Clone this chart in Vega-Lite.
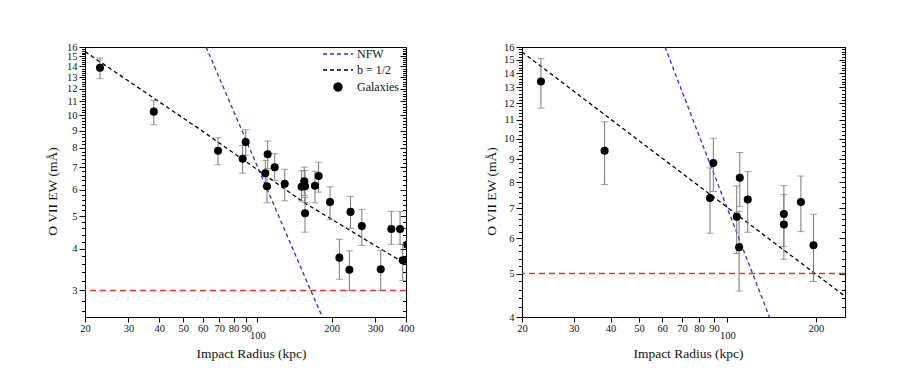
{
  "$schema": "https://vega.github.io/schema/vega-lite/v6.json",
  "background": "white",
  "padding": {"left": 44, "top": 41, "right": 0, "bottom": 5},
  "spacing": 68,
  "config": {
    "view": {"stroke": "#000", "strokeWidth": 1},
    "axis": {
      "labelFont": "Liberation Serif", "labelFontSize": 10.5, "labelColor": "#111",
      "titleFont": "Liberation Serif", "titleFontSize": 13.5, "titleFontWeight": "normal", "titleColor": "#111",
      "tickColor": "#000", "tickWidth": 1, "domain": false, "grid": false, "labelFlush": false, "labelOverlap": false
    },
    "legend": {"labelFont": "Liberation Serif", "labelFontSize": 12, "labelColor": "#111"}
  },
  "resolve": {"scale": {"color": "independent"}, "legend": {"color": "independent"}},
  "datasets": {
    "leftPts": [
      {"x": 23.0, "y": 13.88, "lo": 12.87, "hi": 14.83},
      {"x": 38.0, "y": 10.26, "lo": 9.38, "hi": 11.09},
      {"x": 69.2, "y": 7.84, "lo": 7.12, "hi": 8.58},
      {"x": 87.1, "y": 7.42, "lo": 6.72, "hi": 8.13},
      {"x": 89.6, "y": 8.32, "lo": 7.6, "hi": 9.06},
      {"x": 110, "y": 7.65, "lo": 6.94, "hi": 8.38},
      {"x": 107.6, "y": 6.72, "lo": 6.14, "hi": 7.34},
      {"x": 109.3, "y": 6.14, "lo": 5.48, "hi": 6.85},
      {"x": 117.5, "y": 7.0, "lo": 6.39, "hi": 7.68},
      {"x": 129, "y": 6.25, "lo": 5.56, "hi": 6.9},
      {"x": 151, "y": 6.12, "lo": 5.55, "hi": 6.83},
      {"x": 154.8, "y": 6.36, "lo": 5.77, "hi": 7.0},
      {"x": 155.9, "y": 6.14, "lo": 5.49, "hi": 6.85},
      {"x": 155.9, "y": 5.1, "lo": 4.48, "hi": 5.69},
      {"x": 171, "y": 6.16, "lo": 5.48, "hi": 6.81},
      {"x": 177, "y": 6.59, "lo": 5.9, "hi": 7.25},
      {"x": 196.9, "y": 5.51, "lo": 4.88, "hi": 6.12},
      {"x": 238.4, "y": 5.15, "lo": 4.6, "hi": 5.73},
      {"x": 264.9, "y": 4.67, "lo": 4.09, "hi": 5.24},
      {"x": 348.8, "y": 4.58, "lo": 4.12, "hi": 5.17},
      {"x": 378.4, "y": 4.58, "lo": 4.12, "hi": 5.17},
      {"x": 214.8, "y": 3.76, "lo": 3.24, "hi": 4.27},
      {"x": 235.8, "y": 3.46, "lo": 3.0, "hi": 3.94},
      {"x": 316, "y": 3.47, "lo": 3.0, "hi": 3.95},
      {"x": 388, "y": 3.69, "lo": 3.21, "hi": 4.12},
      {"x": 405, "y": 4.11, "lo": 3.62, "hi": 4.6}
    ],
    "leftLines": [
      {"series": "b = 1/2", "x": 20, "y": 15.5},
      {"series": "b = 1/2", "x": 58, "y": 9.12},
      {"series": "b = 1/2", "x": 156.9, "y": 5.45},
      {"series": "b = 1/2", "x": 386.6, "y": 3.65},
      {"series": "b = 1/2", "x": 400, "y": 3.6},
      {"series": "NFW", "x": 61.9, "y": 16},
      {"series": "NFW", "x": 134.3, "y": 4.24},
      {"series": "NFW", "x": 164.4, "y": 3.0},
      {"series": "NFW", "x": 183.2, "y": 2.5}
    ],
    "rightPts": [
      {"x": 23.2, "y": 13.4, "lo": 11.69, "hi": 15.07},
      {"x": 38.2, "y": 9.39, "lo": 7.9, "hi": 10.9},
      {"x": 89.5, "y": 8.82, "lo": 7.62, "hi": 10.02},
      {"x": 87.2, "y": 7.37, "lo": 6.15, "hi": 8.6},
      {"x": 110.1, "y": 8.18, "lo": 7.05, "hi": 9.31},
      {"x": 117.2, "y": 7.31, "lo": 6.18, "hi": 8.44},
      {"x": 107.5, "y": 6.69, "lo": 5.54, "hi": 7.84},
      {"x": 109.5, "y": 5.72, "lo": 4.57, "hi": 6.88},
      {"x": 155.5, "y": 6.79, "lo": 5.75, "hi": 7.85},
      {"x": 155.5, "y": 6.43, "lo": 5.38, "hi": 7.5},
      {"x": 177.7, "y": 7.22, "lo": 6.2, "hi": 8.25},
      {"x": 196.1, "y": 5.78, "lo": 4.8, "hi": 6.78}
    ],
    "rightLines": [
      {"series": "b = 1/2", "x": 20, "y": 15.6},
      {"series": "b = 1/2", "x": 50.4, "y": 9.85},
      {"series": "b = 1/2", "x": 251, "y": 4.45},
      {"series": "NFW", "x": 61.3, "y": 16},
      {"series": "NFW", "x": 76.5, "y": 10.96},
      {"series": "NFW", "x": 138.9, "y": 4.0}
    ]
  },
  "hconcat": [
    {
      "width": 321,
      "height": 270,
      "resolve": {"axis": {"y": "independent"}},
      "layer": [
        {
          "data": {"values": [{"y": 3}]},
          "mark": {"type": "rule", "color": "#ff2a2a", "strokeDash": [6, 4], "strokeWidth": 1.4},
          "encoding": {
            "y": {"field": "y", "type": "quantitative", "scale": {"type": "log", "domain": [2.5, 16], "nice": false}, "axis": null}
          }
        },
        {
          "data": {"name": "leftLines"},
          "mark": {"type": "line", "strokeDash": [4, 3], "strokeWidth": 1.3, "clip": true},
          "encoding": {
            "x": {"field": "x", "type": "quantitative", "scale": {"type": "log", "domain": [20, 400], "nice": false},
              "axis": {"orient": "bottom", "values": [20, 30, 40, 50, 60, 70, 80, 90, 100, 200, 300, 400],
                "labelExpr": "datum.value === 100 ? ['', '100'] : format(datum.value, 'd')",
                "labelLineHeight": 7, "labelPadding": 1, "tickSize": 5,
                "title": "Impact Radius (kpc)", "titleX": 166, "titleY": 36, "titleBaseline": "middle", "titleAlign": "center"}},
            "y": {"field": "y", "type": "quantitative", "scale": {"type": "log", "domain": [2.5, 16], "nice": false}, "axis": null},
            "color": {"field": "series", "type": "nominal",
              "scale": {"domain": ["NFW", "b = 1/2", "Galaxies"], "range": ["#2a2aee", "#000000", "#000000"]},
              "legend": {"orient": "none", "legendX": 247, "legendY": 1, "title": null, "padding": 0, "offset": 0,
                "symbolSize": 100, "labelOffset": 13, "rowPadding": 4,
                "labelFont": "Liberation Serif", "labelFontSize": 12, "labelColor": "#111",
                "encode": {"symbols": {"update": {
                  "shape": {"signal": "datum.value === 'Galaxies' ? 'circle' : 'M-3,0H3'"},
                  "size": {"signal": "datum.value === 'Galaxies' ? 65 : 100"},
                  "strokeDash": {"signal": "datum.value === 'Galaxies' ? [1, 0] : [4, 3]"},
                  "fill": {"signal": "datum.value === 'Galaxies' ? '#000' : 'transparent'"},
                  "stroke": {"signal": "datum.value === 'NFW' ? '#2a2aee' : '#000'"},
                  "strokeWidth": {"value": 1.3},
                  "opacity": {"value": 1}
                }}}}
            }
          }
        },
        {
          "data": {"name": "leftPts"},
          "mark": {"type": "rule", "color": "#777", "strokeWidth": 1, "clip": true},
          "encoding": {
            "x": {"field": "x", "type": "quantitative", "scale": {"type": "log", "domain": [20, 400], "nice": false}},
            "y": {"field": "lo", "type": "quantitative", "scale": {"type": "log", "domain": [2.5, 16], "nice": false},
              "axis": {"orient": "left", "values": [2.6,2.8,3.2,3.4,3.6,3.8,4.2,4.4,4.6,4.8,5.2,5.4,5.6,5.8,6.2,6.4,6.6,6.8,7.2,7.4,7.6,7.8,8.2,8.4,8.6,8.8,9.2,9.4,9.6,9.8,10.2,10.4,10.6,10.8,11.2,11.4,11.6,11.8,12.2,12.4,12.6,12.8,13.2,13.4,13.6,13.8,14.2,14.4,14.6,14.8,15.2,15.4,15.6,15.8],
                "labels": false, "title": null, "tickSize": 3.5}},
            "y2": {"field": "hi"}
          }
        },
        {
          "data": {"name": "leftPts"},
          "mark": {"type": "tick", "orient": "horizontal", "size": 7, "thickness": 1, "color": "#777", "clip": true},
          "encoding": {
            "x": {"field": "x", "type": "quantitative", "scale": {"type": "log", "domain": [20, 400], "nice": false}},
            "y": {"field": "lo", "type": "quantitative", "scale": {"type": "log", "domain": [2.5, 16], "nice": false},
              "axis": {"orient": "right", "offset": -3.5, "values": [2.6,2.8,3.2,3.4,3.6,3.8,4.2,4.4,4.6,4.8,5.2,5.4,5.6,5.8,6.2,6.4,6.6,6.8,7.2,7.4,7.6,7.8,8.2,8.4,8.6,8.8,9.2,9.4,9.6,9.8,10.2,10.4,10.6,10.8,11.2,11.4,11.6,11.8,12.2,12.4,12.6,12.8,13.2,13.4,13.6,13.8,14.2,14.4,14.6,14.8,15.2,15.4,15.6,15.8],
                "labels": false, "title": null, "tickSize": 3.5}}
          }
        },
        {
          "data": {"name": "leftPts"},
          "mark": {"type": "tick", "orient": "horizontal", "size": 7, "thickness": 1, "color": "#777", "clip": true},
          "encoding": {
            "x": {"field": "x", "type": "quantitative", "scale": {"type": "log", "domain": [20, 400], "nice": false}},
            "y": {"field": "hi", "type": "quantitative", "scale": {"type": "log", "domain": [2.5, 16], "nice": false},
              "axis": {"orient": "right", "offset": -6, "values": [3,4,5,6,7,8,9,10,11,12,13,14,15,16],
                "labels": false, "title": null, "tickSize": 6}}
          }
        },
        {
          "data": {"name": "leftPts"},
          "mark": {"type": "point", "filled": true, "shape": "circle", "size": 65, "color": "#000", "opacity": 1, "clip": true},
          "encoding": {
            "x": {"field": "x", "type": "quantitative", "scale": {"type": "log", "domain": [20, 400], "nice": false}},
            "y": {"field": "y", "type": "quantitative", "scale": {"type": "log", "domain": [2.5, 16], "nice": false},
              "axis": {"orient": "left", "values": [3,4,5,6,7,8,9,10,11,12,13,14,15,16],
                "labelExpr": "format(datum.value, 'd')",
                "tickSize": 6, "labelPadding": 2,
                "title": "O VII EW (mÅ)", "titleX": -33, "titleY": 144, "titleAngle": 270, "titleBaseline": "middle", "titleAlign": "center"}}
          }
        }
      ]
    },
    {
      "width": 323,
      "height": 270,
      "resolve": {"axis": {"y": "independent"}},
      "layer": [
        {
          "data": {"values": [{"y": 5}]},
          "mark": {"type": "rule", "color": "#ff2a2a", "strokeDash": [6, 4], "strokeWidth": 1.4},
          "encoding": {
            "y": {"field": "y", "type": "quantitative", "scale": {"type": "log", "domain": [4, 16], "nice": false}, "axis": null}
          }
        },
        {
          "data": {"name": "rightLines"},
          "mark": {"type": "line", "strokeDash": [4, 3], "strokeWidth": 1.3, "clip": true},
          "encoding": {
            "x": {"field": "x", "type": "quantitative", "scale": {"type": "log", "domain": [20, 251], "nice": false},
              "axis": {"orient": "bottom", "values": [20, 30, 40, 50, 60, 70, 80, 90, 100, 200],
                "labelExpr": "datum.value === 100 ? ['', '100'] : format(datum.value, 'd')",
                "labelLineHeight": 7, "labelPadding": 1, "tickSize": 5,
                "title": "Impact Radius (kpc)", "titleX": 166, "titleY": 36, "titleBaseline": "middle", "titleAlign": "center"}},
            "y": {"field": "y", "type": "quantitative", "scale": {"type": "log", "domain": [4, 16], "nice": false}, "axis": null},
            "color": {"field": "series", "type": "nominal",
              "scale": {"domain": ["NFW", "b = 1/2"], "range": ["#2a2aee", "#000000"]}, "legend": null}
          }
        },
        {
          "data": {"name": "rightPts"},
          "mark": {"type": "rule", "color": "#777", "strokeWidth": 1, "clip": true},
          "encoding": {
            "x": {"field": "x", "type": "quantitative", "scale": {"type": "log", "domain": [20, 251], "nice": false}},
            "y": {"field": "lo", "type": "quantitative", "scale": {"type": "log", "domain": [4, 16], "nice": false},
              "axis": {"orient": "left", "values": [4.2,4.4,4.6,4.8,5.2,5.4,5.6,5.8,6.2,6.4,6.6,6.8,7.2,7.4,7.6,7.8,8.2,8.4,8.6,8.8,9.2,9.4,9.6,9.8,10.2,10.4,10.6,10.8,11.2,11.4,11.6,11.8,12.2,12.4,12.6,12.8,13.2,13.4,13.6,13.8,14.2,14.4,14.6,14.8,15.2,15.4,15.6,15.8],
                "labels": false, "title": null, "tickSize": 3.5}},
            "y2": {"field": "hi"}
          }
        },
        {
          "data": {"name": "rightPts"},
          "mark": {"type": "tick", "orient": "horizontal", "size": 7, "thickness": 1, "color": "#777", "clip": true},
          "encoding": {
            "x": {"field": "x", "type": "quantitative", "scale": {"type": "log", "domain": [20, 251], "nice": false}},
            "y": {"field": "lo", "type": "quantitative", "scale": {"type": "log", "domain": [4, 16], "nice": false},
              "axis": {"orient": "right", "offset": -3.5, "values": [4.2,4.4,4.6,4.8,5.2,5.4,5.6,5.8,6.2,6.4,6.6,6.8,7.2,7.4,7.6,7.8,8.2,8.4,8.6,8.8,9.2,9.4,9.6,9.8,10.2,10.4,10.6,10.8,11.2,11.4,11.6,11.8,12.2,12.4,12.6,12.8,13.2,13.4,13.6,13.8,14.2,14.4,14.6,14.8,15.2,15.4,15.6,15.8],
                "labels": false, "title": null, "tickSize": 3.5}}
          }
        },
        {
          "data": {"name": "rightPts"},
          "mark": {"type": "tick", "orient": "horizontal", "size": 7, "thickness": 1, "color": "#777", "clip": true},
          "encoding": {
            "x": {"field": "x", "type": "quantitative", "scale": {"type": "log", "domain": [20, 251], "nice": false}},
            "y": {"field": "hi", "type": "quantitative", "scale": {"type": "log", "domain": [4, 16], "nice": false},
              "axis": {"orient": "right", "offset": -6, "values": [4,5,6,7,8,9,10,11,12,13,14,15,16],
                "labels": false, "title": null, "tickSize": 6}}
          }
        },
        {
          "data": {"name": "rightPts"},
          "mark": {"type": "point", "filled": true, "shape": "circle", "size": 65, "color": "#000", "opacity": 1, "clip": true},
          "encoding": {
            "x": {"field": "x", "type": "quantitative", "scale": {"type": "log", "domain": [20, 251], "nice": false}},
            "y": {"field": "y", "type": "quantitative", "scale": {"type": "log", "domain": [4, 16], "nice": false},
              "axis": {"orient": "left", "values": [4,5,6,7,8,9,10,11,12,13,14,15,16],
                "labelExpr": "format(datum.value, 'd')",
                "tickSize": 6, "labelPadding": 2,
                "title": "O VII EW (mÅ)", "titleX": -31, "titleY": 144, "titleAngle": 270, "titleBaseline": "middle", "titleAlign": "center"}}
          }
        }
      ]
    }
  ]
}
